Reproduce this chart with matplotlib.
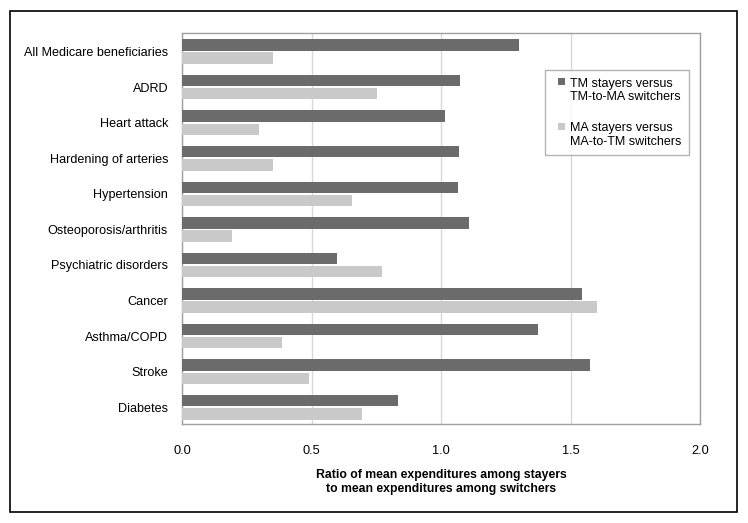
import numpy as np
import matplotlib.pyplot as plt
from matplotlib.patches import Rectangle
from matplotlib.legend_handler import HandlerBase

plt.rcParams['font.family'] = ['Liberation Sans', 'DejaVu Sans']

categories = ['All Medicare beneficiaries', 'ADRD', 'Heart attack',
              'Hardening of arteries', 'Hypertension', 'Osteoporosis/arthritis',
              'Psychiatric disorders', 'Cancer', 'Asthma/COPD', 'Stroke', 'Diabetes']
tm_ratio = [1.30, 1.075, 1.017, 1.069, 1.064, 1.107, 0.597, 1.544, 1.374, 1.575, 0.835]
ma_ratio = [0.35, 0.751, 0.298, 0.35, 0.656, 0.194, 0.771, 1.603, 0.387, 0.489, 0.694]
tm_label = 'TM stayers versus\nTM-to-MA switchers'
ma_label = 'MA stayers versus\nMA-to-TM switchers'
xticks = [0.0, 0.5, 1.0, 1.5, 2.0]

dark = '#6b6b6b'
light = '#c9c9c9'


# legend square sits next to the first line of the label
class TopSquare(HandlerBase):
    def create_artists(self, legend, orig, xdescent, ydescent, width, height,
                       fontsize, trans):
        s = 0.56 * fontsize
        p = Rectangle((-xdescent + width - s, -ydescent + 0.75 * fontsize), s, s,
                      facecolor=orig.patches[0].get_facecolor(), edgecolor='none',
                      transform=trans)
        return [p]


fig = plt.figure(figsize=(7.48, 5.23), dpi=100)
ax = fig.add_axes([182 / 748, 1 - 424 / 523, 518 / 748, 391 / 523])

y = np.arange(len(categories))
h = 0.32
b1 = ax.barh(y - 0.185, tm_ratio, height=h, color=dark, zorder=3, label=tm_label)
b2 = ax.barh(y + 0.185, ma_ratio, height=h, color=light, zorder=3, label=ma_label)

ax.set_xlim(0, 2.0)
ax.set_ylim(10.47, -0.52)
ax.set_xticks(xticks)
ax.set_xticklabels([f'{t:.1f}' for t in xticks], fontsize=9.2)
ax.set_yticks(y)
ax.set_yticklabels(categories, fontsize=9.1)
ax.tick_params(axis='both', length=0)
ax.tick_params(axis='x', pad=15)
ax.tick_params(axis='y', pad=10)
ax.grid(axis='x', color='#d9d9d9', linewidth=1, zorder=0)
for s in ax.spines.values():
    s.set_color('#a0a0a0')
    s.set_linewidth(1)

ax.set_xlabel('Ratio of mean expenditures among stayers\nto mean expenditures among switchers',
              fontsize=8.8, fontweight='bold', labelpad=9, linespacing=1.2)

leg = ax.legend(loc='upper left', bbox_to_anchor=(363 / 518, (424 - 70) / 391),
                frameon=True, fancybox=False, fontsize=9, handlelength=1.0,
                handleheight=0.6, handletextpad=0.4, labelspacing=1.5,
                borderpad=0.6, borderaxespad=0,
                handler_map={b1: TopSquare(), b2: TopSquare()})
leg.get_frame().set_edgecolor('#a0a0a0')
leg.get_frame().set_linewidth(1)

fig.patches.append(Rectangle((10 / 748, 1 - 512 / 523), 727 / 748, 501 / 523,
                             transform=fig.transFigure, fill=False,
                             edgecolor='black', linewidth=1.2))

plt.savefig('out.png', dpi=100)
